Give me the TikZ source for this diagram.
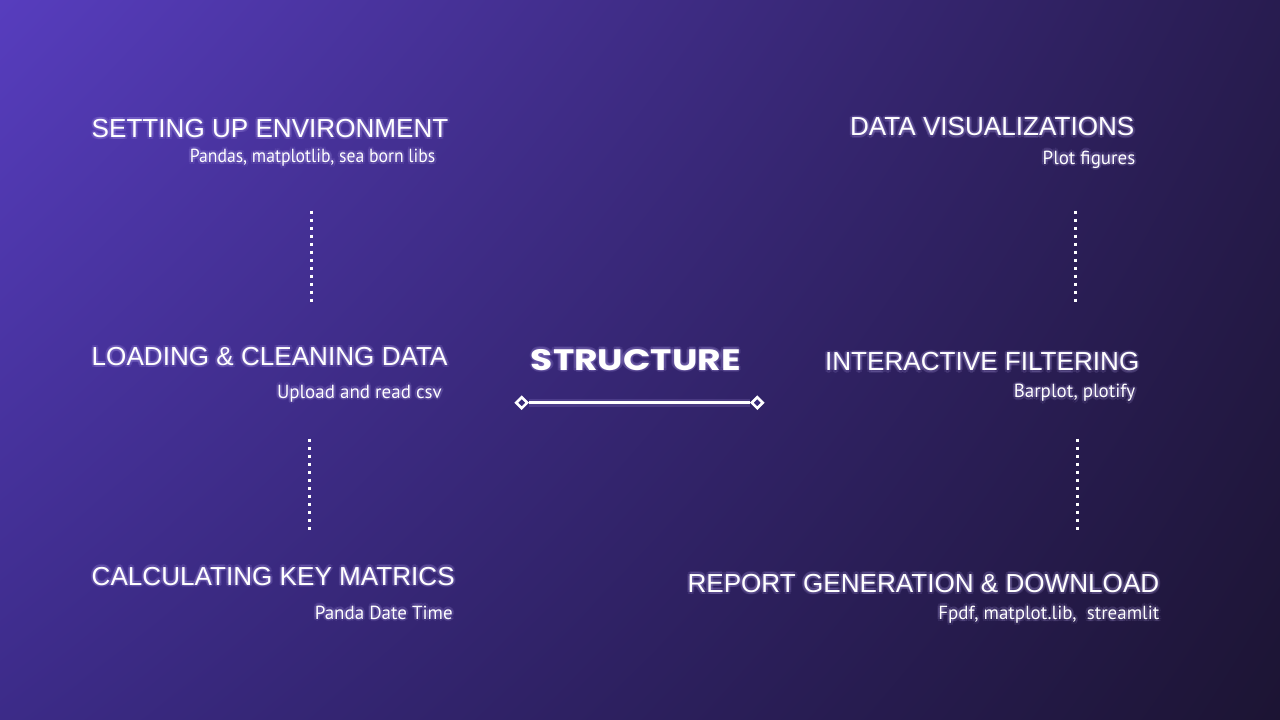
\documentclass[tikz,border=0pt]{standalone}
\usepackage{fontspec}
\setmainfont{Liberation Sans}
\newfontfamily\notefont{PT Sans}
\newfontfamily\titlefont{Poppins}
\usetikzlibrary{shapes.geometric,shadings}

\definecolor{bgTL}{HTML}{573DBE}
\definecolor{bgTR}{HTML}{281C50}
\definecolor{bgBL}{HTML}{3C2B88}
\definecolor{bgBR}{HTML}{1C1433}
\definecolor{bgMid}{HTML}{36287A}
\definecolor{glowc}{HTML}{C8B6FF}

\tikzset{
  heading/.style={font=\fontsize{26.1}{30}\selectfont, text=white, inner sep=0pt},
  note/.style={font=\notefont\fontsize{19}{22}\selectfont, text=white, inner sep=0pt},
  title/.style={font=\titlefont\bfseries\fontsize{29.6}{34}\selectfont, text=white, inner sep=0pt},
  dotline/.style={white, line width=3.4pt, dash pattern=on 3.4pt off 4.6pt},
  diamondmark/.style={diamond, draw=white, fill=bgMid, line width=2.6pt,
    minimum width=12pt, minimum height=12pt, inner sep=0pt},
  barline/.style={white, line width=3pt},
}

% text with a soft lavender halo: #1 name, #2 anchor, #3 position, #4 style, #5 text
\newcommand\glowlabel[5]{%
  \foreach \ang in {0,45,...,315}{%
    \node[#4,anchor=#2,text=glowc,text opacity=0.11,shift={(\ang:2.4)}] at #3 {#5};
  }%
  \node[#4,anchor=#2] (#1) at #3 {#5};%
}

\begin{document}
\begin{tikzpicture}[x=1pt,y=-1pt]
  \useasboundingbox (0,0) rectangle (1280,720);
  \shade[upper left=bgTL, upper right=bgTR, lower left=bgBL, lower right=bgBR]
    (0,0) rectangle (1280,720);

  % left column
  \glowlabel{setup}{base west}{(91.5,137.5)}{heading}{SETTING UP ENVIRONMENT}
  \glowlabel{setupnote}{base east}{(435.5,162.5)}{note}{\scalebox{0.93}[1]{Pandas, matplotlib, sea born libs}}
  \glowlabel{load}{base west}{(91.5,365.5)}{heading}{LOADING \& CLEANING DATA}
  \glowlabel{loadnote}{base east}{(442,398)}{note}{Upload and read csv}
  \glowlabel{calc}{base west}{(91.5,585)}{heading}{CALCULATING KEY MATRICS}
  \glowlabel{calcnote}{base east}{(453,619)}{note}{Panda Date Time}

  % right column
  \glowlabel{viz}{base east}{(1134.5,135.7)}{heading}{DATA VISUALIZATIONS}
  \glowlabel{viznote}{base east}{(1135.5,164)}{note}{Plot figures}
  \glowlabel{filter}{base east}{(1139.5,370.7)}{heading}{INTERACTIVE FILTERING}
  \glowlabel{filternote}{base east}{(1135.5,397.7)}{note}{Barplot, plotify}
  \glowlabel{report}{base east}{(1159.5,592.3)}{heading}{REPORT GENERATION \& DOWNLOAD}
  \glowlabel{reportnote}{base east}{(1159.5,619.3)}{note}{Fpdf, matplot.lib,\ \ streamlit}

  % centre title
  \glowlabel{structure}{base}{(635.8,370)}{title}{\scalebox{1.22}[1]{STRUCTURE}}

  % underline with diamond ends
  \node[diamondmark] (dl) at (521.7,402.7) {};
  \node[diamondmark] (dr) at (757.3,402.7) {};
  \draw[glowc, opacity=0.15, line width=8pt] (dl) -- (dr);
  \draw[barline] (dl) -- (dr);

  % dotted links between steps
  \coordinate (l1a) at (311.3,210.7);
  \coordinate (l1b) at (311.3,302.5);
  \coordinate (l2a) at (309.5,438.7);
  \coordinate (l2b) at (309.5,530.5);
  \coordinate (r1a) at (1075.3,210.7);
  \coordinate (r1b) at (1075.3,302.5);
  \coordinate (r2a) at (1077.3,438.7);
  \coordinate (r2b) at (1077.3,530.5);
  \draw[dotline] (l1a) -- (l1b);
  \draw[dotline] (l2a) -- (l2b);
  \draw[dotline] (r1a) -- (r1b);
  \draw[dotline] (r2a) -- (r2b);
\end{tikzpicture}
\end{document}
